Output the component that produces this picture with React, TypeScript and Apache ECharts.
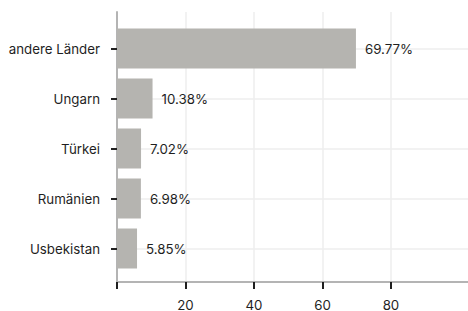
import React, { useEffect, useRef } from "react";
import * as echarts from "echarts";

const categories = ["andere Länder", "Ungarn", "Türkei", "Rumänien", "Usbekistan"];
const shares = [69.77, 10.38, 7.02, 6.98, 5.85];
const tickValues = [0, 20, 40, 60, 80];
const labelValues = [20, 40, 60, 80];

const FONT = "Inter, 'Noto Sans', sans-serif";
const TEXT = "#1f1f1f";
const GRID = "#eeeeee";
const AXIS = "#b4b4b4";
const BAR = "#b5b4b0";

export default function App() {
  const ref = useRef<HTMLDivElement>(null);
  useEffect(() => {
    if (!ref.current) return;
    const chart = echarts.init(ref.current, null, { renderer: "svg" });
    chart.setOption({
      animation: false,
      backgroundColor: "#ffffff",
      grid: [
        { left: 117, right: 0, top: 48.5, bottom: 62.5 },
        { left: 117, right: 0, top: 12, bottom: 27 },
      ],
      xAxis: [
        { type: "value", gridIndex: 0, min: 0, max: 102.5, show: false },
        {
          type: "value",
          gridIndex: 1,
          min: 0,
          max: 102.5,
          interval: 20,
          axisLine: { show: true, lineStyle: { color: AXIS, width: 2 } },
          axisTick: {
            show: true,
            customValues: tickValues,
            length: 7,
            lineStyle: { color: TEXT, width: 2 },
          },
          axisLabel: {
            customValues: labelValues,
            color: TEXT,
            fontFamily: FONT,
            fontSize: 13.3,
            margin: 16,
          },
          splitLine: { show: true, lineStyle: { color: GRID, width: 1.5 } },
        },
      ],
      yAxis: [
        {
          type: "category",
          gridIndex: 0,
          inverse: true,
          boundaryGap: false,
          data: categories,
          axisLine: { show: false },
          axisTick: { show: true, length: 6, lineStyle: { color: TEXT, width: 2 } },
          axisLabel: { color: TEXT, fontFamily: FONT, fontSize: 13.3, margin: 17 },
          splitLine: { show: true, lineStyle: { color: GRID, width: 1.5 } },
        },
        {
          type: "value",
          gridIndex: 1,
          axisLine: { show: true, lineStyle: { color: AXIS, width: 2 } },
          axisTick: { show: false },
          axisLabel: { show: false },
          splitLine: { show: false },
        },
      ],
      series: [
        {
          type: "bar",
          xAxisIndex: 0,
          yAxisIndex: 0,
          data: shares,
          barWidth: 40,
          itemStyle: { color: BAR },
          label: {
            show: true,
            position: "right",
            distance: 9,
            color: TEXT,
            fontFamily: FONT,
            fontSize: 13.3,
            formatter: (p: any) => p.value.toFixed(2) + "%",
          },
          z: 3,
        },
      ],
    });
    return () => chart.dispose();
  }, []);
  return (
    <div
      ref={ref}
      style={{ position: "fixed", left: 0, top: 0, width: 468, height: 311 }}
    />
  );
}
